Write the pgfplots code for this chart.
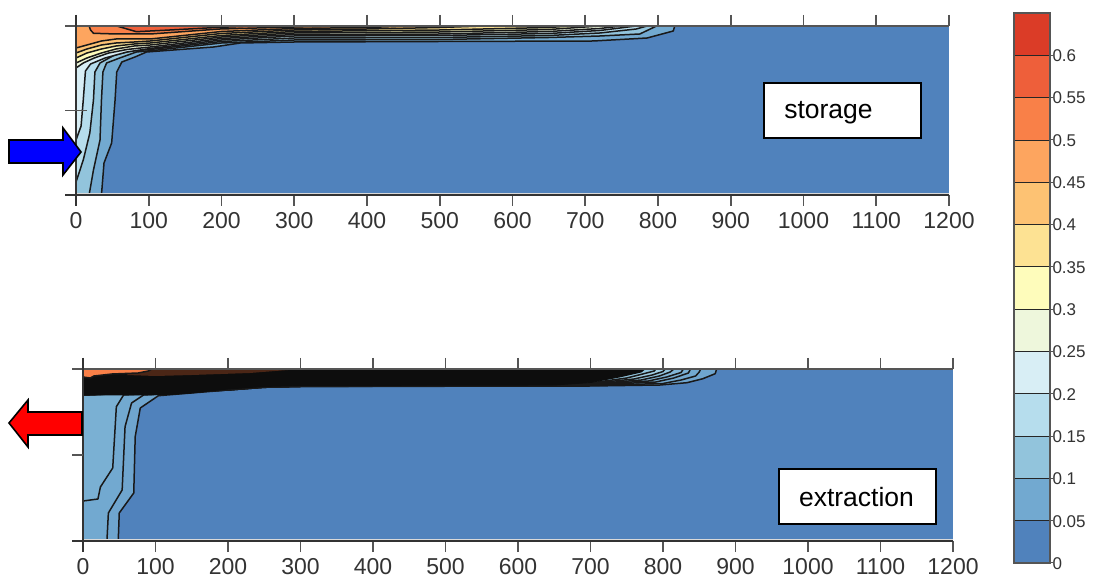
\documentclass[border=0pt]{standalone}
\usepackage{fontspec}
\setmainfont{Liberation Sans}
\usepackage{pgfplots}
\pgfplotsset{compat=1.18}
\definecolor{c0}{HTML}{5082BC}
\definecolor{c1}{HTML}{72A9D0}
\definecolor{c2}{HTML}{92C4DC}
\definecolor{c3}{HTML}{B6DDED}
\definecolor{c4}{HTML}{D8EEF5}
\definecolor{c5}{HTML}{EEF7DC}
\definecolor{c6}{HTML}{FEFCBB}
\definecolor{c7}{HTML}{FDE293}
\definecolor{c8}{HTML}{FDC273}
\definecolor{c9}{HTML}{FDA55F}
\definecolor{c10}{HTML}{F98048}
\definecolor{c11}{HTML}{EE5F3A}
\definecolor{c12}{HTML}{DB3C27}
\definecolor{tk}{HTML}{555555}
\definecolor{txt}{HTML}{333333}
\pgfplotsset{
  poly/.style={fill=#1,draw=black!90,line width=1.5pt,line join=round,mark=none},
  panel/.style={
    scale only axis,width=873pt,anchor=south west,clip=false,
    y dir=reverse,ymin=0,xmin=0,xmax=1200,
    xtick={0,100,...,1200},
    scaled x ticks=false,
    /pgf/number format/1000 sep={},
    /pgf/number format/assume math mode=true,
    xticklabel pos=lower,
    ytick pos=left,
    yticklabels={},
    tick align=outside,
    major tick length=11pt,
    tick style={draw=tk,line width=1.6pt},
    axis line style={draw=none},
    xticklabel style={font=\fontsize{23}{27}\selectfont,text=txt,yshift=-3pt},
  },
}
\begin{document}
\begin{tikzpicture}[x=1pt,y=1pt]
% ---------- storage
\begin{axis}[panel,at={(76pt,383pt)},height=169pt,ymax=169,ytick={0,169}]
\addplot[fill=c0,draw=none] coordinates {(0,0)(1200,0)(1200,169)(0,169)} --cycle;
\addplot[poly=c1] coordinates {(0,0)(0,169)(35,169)(38.5,137)(49,117)(53.7,74)(56,46)(63,36)(81,31)(97,26)(189,21)(226,17)(300,16)(500,15.5)(711,15)(785,12)(821,5)(823,0)} --cycle;
\addplot[poly=c2] coordinates {(0,0)(0,169)(18,169)(24,144)(33,114)(35,74)(37,46)(42,37)(60,32)(83,26)(106,24.5)(200,17)(300,14)(500,13.5)(650,11.5)(720,10)(775,8)(798,0)} --cycle;
\addplot[poly=c3] coordinates {(0,0)(0,156)(10,134)(19,107)(24,74)(26,46)(33,37)(53,29)(75,25)(102,23.5)(200,15.5)(300,12)(500,11.5)(650,9.5)(720,7)(770,3)(785,0)} --cycle;
\addplot[poly=c4] coordinates {(0,0)(0,114)(7,100)(10,74)(13,45)(20,38)(40,32)(70,26)(102,22.5)(200,14)(300,10)(500,9.5)(650,7.5)(720,4.5)(770,0)} --cycle;
\addplot[poly=c5] coordinates {(0,0)(0,42)(10,37)(25,32)(45,27)(70,23.5)(102,21)(200,12.5)(300,8.5)(500,8)(650,5.5)(720,2.5)(750,0)} --cycle;
\addplot[poly=c6] coordinates {(0,0)(0,37)(15,32)(35,27)(55,23)(80,20)(102,19)(200,11)(300,7)(500,6)(650,3.5)(720,0)} --cycle;
\addplot[poly=c7] coordinates {(0,0)(0,32)(15,27)(35,23)(55,20)(80,18)(102,17)(200,9.5)(300,5.5)(500,4)(650,1.5)(680,0)} --cycle;
\addplot[poly=c8] coordinates {(0,0)(0,27)(15,23)(35,19)(55,17)(80,16)(102,15)(200,7.5)(300,4)(400,3)(500,1.5)(560,0)} --cycle;
\addplot[poly=c9] coordinates {(0,0)(0,22)(15,19)(35,15)(55,13)(80,13)(102,13)(200,5.5)(300,2.5)(400,1.5)(460,0)} --cycle;
\addplot[poly=c10] coordinates {(18,0)(20,4)(24,7.3)(56,8)(102,8)(198,3)(300,1)(350,0)} --cycle;
\addplot[poly=c11] coordinates {(56,0)(83,5.7)(129,4)(198,1.3)(250,0)} --cycle;
% frame
\draw[draw=tk,line width=2pt] (axis cs:0,0) -- (axis cs:1200,0);
\draw[draw=black!15,line width=1.6pt] (axis cs:0,167.6) -- (axis cs:1200,167.6);
\draw[draw=tk!60!black,line width=1.6pt] (axis cs:0,-11) -- (axis cs:0,180);
\draw[draw=tk!60!black,line width=1.6pt] (axis cs:-15,169) -- (axis cs:1200,169);
\draw[draw=tk,line width=1.6pt] (axis cs:-15,84.5) -- (axis cs:15,84.5);
\end{axis}
% ---------- extraction
\begin{axis}[panel,at={(83pt,37pt)},width=870pt,height=172pt,ymax=172,ytick={0,172}]
\addplot[fill=c0,draw=none] coordinates {(0,0)(1200,0)(1200,172)(0,172)} --cycle;
\addplot[poly=c1!90!c0] coordinates {(0,0)(0,172)(48.6,172)(50,144)(70,124)(72,67.7)(79,39)(104,26.7)(200,21)(250,18.3)(300,17.5)(700,17)(796,16)(833,13.7)(855,9.7)(872,4.7)(874,0)} --cycle;
\addplot[poly=c1] coordinates {(0,0)(0,172)(33,172)(35,144)(54,121)(58,57.7)(67,34)(83.5,26)(200,21)(250,18.3)(300,17.5)(700,16.5)(800,14.5)(825,11)(845,7)(850,3)(852,0)} --cycle;
\addplot[poly=c1!75!c2] coordinates {(0,0)(0,132)(20.6,130)(24,118)(41,99)(46,37.7)(56,26)(200,21)(250,18.3)(300,17.5)(700,16)(790,13)(815,9)(835,4)(838,0)} --cycle;
\addplot[poly=c1!50!c2] coordinates {(0,0)(0,26)(200,21)(250,18)(300,17)(700,15.5)(780,12)(805,8)(825,3.5)(828,0)} --cycle;
\addplot[poly=c2] coordinates {(0,0)(0,26)(200,20.5)(250,17.5)(300,17)(700,15)(770,11)(795,7)(810,3)(815,0)} --cycle;
\addplot[poly=c2!60!c3] coordinates {(0,0)(0,26)(200,20)(250,17)(300,16.5)(700,14.5)(760,10)(785,6)(800,2.5)(803,0)} --cycle;
\addplot[poly=c2] coordinates {(0,0)(0,26)(200,20)(250,17)(300,16.5)(700,14)(750,9)(772,5)(788,2)(790,0)} --cycle;
\addplot[fill=black!95,draw=black!95,line width=0.9pt] coordinates {(0,0)(0,26)(83,26)(120,25.5)(150,24)(200,20)(250,17.5)(300,16.5)(650,16)(700,13.5)(740,8)(770,3)(775,0)} --cycle;
\addplot[fill=black!70!c10,draw=none] coordinates {(76,0)(60,6)(100,7)(150,6)(230,4)(300,0)} --cycle;
\addplot[poly=c10] coordinates {(0,0)(0,8)(10,9)(15,7)(40,5)(76,4)(90,2)(95,0)} --cycle;
\draw[draw=tk,line width=2pt] (axis cs:0,0) -- (axis cs:1200,0);
\draw[draw=black!15,line width=1.6pt] (axis cs:0,170.6) -- (axis cs:1200,170.6);
\draw[draw=tk!60!black,line width=1.6pt] (axis cs:0,-11) -- (axis cs:0,183);
\draw[draw=tk!60!black,line width=1.6pt] (axis cs:-15,172) -- (axis cs:1200,172);
\draw[draw=tk,line width=1.6pt] (axis cs:-15,86) -- (axis cs:0,86);
\end{axis}
% ---------- colour bar
\begin{axis}[scale only axis,at={(1014pt,15pt)},anchor=south west,width=36pt,height=550pt,
  xmin=0,xmax=1,ymin=0,ymax=0.65,xtick=\empty,ytick pos=right,
  ytick={0,0.05,0.1,0.15,0.2,0.25,0.3,0.35,0.4,0.45,0.5,0.55,0.6},
  yticklabels={0,0.05,0.1,0.15,0.2,0.25,0.3,0.35,0.4,0.45,0.5,0.55,0.6},
  major tick length=3pt,tick align=outside,tick style={draw=tk,line width=1pt},
  axis line style={draw=tk,line width=1.2pt},
  yticklabel style={font=\fontsize{17}{20}\selectfont,text=txt,xshift=-4pt,yshift=-0.5pt},axis on top]
\addplot[fill=c0,draw=black!85,line width=.8pt] coordinates {(0,0)(1,0)(1,.05)(0,.05)} --cycle;
\addplot[fill=c1,draw=black!85,line width=.8pt] coordinates {(0,.05)(1,.05)(1,.1)(0,.1)} --cycle;
\addplot[fill=c2,draw=black!85,line width=.8pt] coordinates {(0,.1)(1,.1)(1,.15)(0,.15)} --cycle;
\addplot[fill=c3,draw=black!85,line width=.8pt] coordinates {(0,.15)(1,.15)(1,.2)(0,.2)} --cycle;
\addplot[fill=c4,draw=black!85,line width=.8pt] coordinates {(0,.2)(1,.2)(1,.25)(0,.25)} --cycle;
\addplot[fill=c5,draw=black!85,line width=.8pt] coordinates {(0,.25)(1,.25)(1,.3)(0,.3)} --cycle;
\addplot[fill=c6,draw=black!85,line width=.8pt] coordinates {(0,.3)(1,.3)(1,.35)(0,.35)} --cycle;
\addplot[fill=c7,draw=black!85,line width=.8pt] coordinates {(0,.35)(1,.35)(1,.4)(0,.4)} --cycle;
\addplot[fill=c8,draw=black!85,line width=.8pt] coordinates {(0,.4)(1,.4)(1,.45)(0,.45)} --cycle;
\addplot[fill=c9,draw=black!85,line width=.8pt] coordinates {(0,.45)(1,.45)(1,.5)(0,.5)} --cycle;
\addplot[fill=c10,draw=black!85,line width=.8pt] coordinates {(0,.5)(1,.5)(1,.55)(0,.55)} --cycle;
\addplot[fill=c11,draw=black!85,line width=.8pt] coordinates {(0,.55)(1,.55)(1,.6)(0,.6)} --cycle;
\addplot[fill=c12,draw=black!85,line width=.8pt] coordinates {(0,.6)(1,.6)(1,.65)(0,.65)} --cycle;
\end{axis}
% ---------- annotations
\draw[fill=white,draw=black,line width=1.5pt] (764pt,440pt) rectangle (921pt,495pt);
\node[font=\fontsize{26.5}{30}\selectfont,anchor=center] at (828.5pt,465.5pt) {storage};
\draw[fill=white,draw=black,line width=1.5pt] (779pt,54pt) rectangle (936pt,109pt);
\node[font=\fontsize{26.5}{30}\selectfont,anchor=center] at (856.5pt,81pt) {extraction};
\draw[fill=blue,draw=black,line width=1.6pt,line join=miter] (9pt,438pt) -- (63pt,438pt) -- (63pt,450pt) -- (81pt,426pt) -- (63pt,403pt) -- (63pt,415pt) -- (9pt,415pt) -- cycle;
\draw[fill=red,draw=black,line width=1.6pt,line join=miter] (82pt,166pt) -- (28pt,166pt) -- (28pt,178pt) -- (9pt,155pt) -- (28pt,131pt) -- (28pt,143pt) -- (82pt,143pt) -- cycle;
\pgfresetboundingbox
\path[use as bounding box] (0pt,0pt) rectangle (1093pt,578pt);
\end{tikzpicture}
\end{document}
